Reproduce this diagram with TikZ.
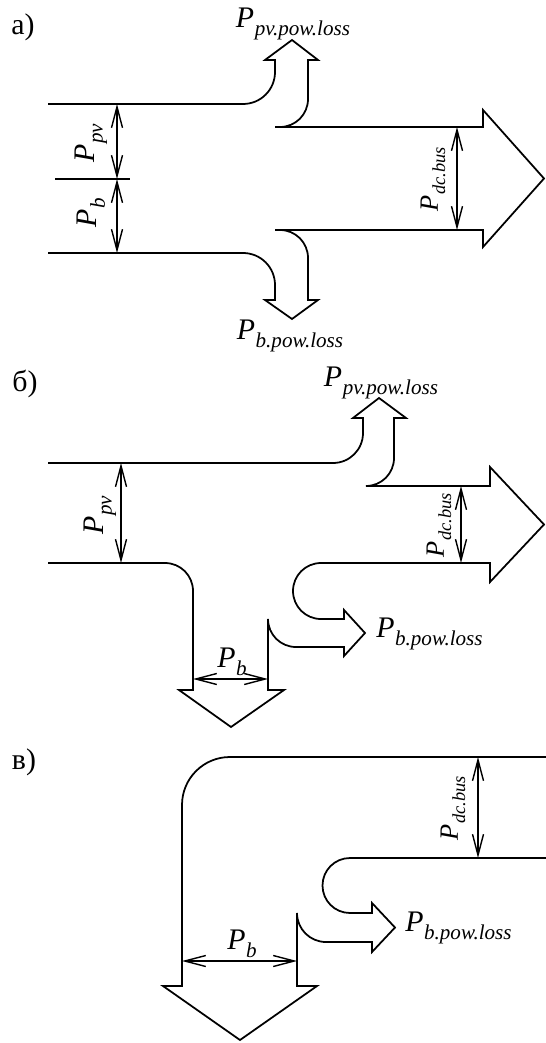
\documentclass[tikz,border=0pt]{standalone}
\usepackage{fontspec}
\setmainfont{Liberation Serif}
\usepackage{tikz}
\usetikzlibrary{arrows.meta}

\newcommand{\psym}[2][12pt]{\textit{P\kern0.3pt\raisebox{-0.28em}{\fontsize{#1}{14pt}\selectfont #2}}}

\begin{document}
\begin{tikzpicture}[x=0.02cm,y=-0.02cm,
    flow/.style={line width=1pt,line join=miter},
    dim/.style={line width=0.8pt,arrows={Straight Barb[length=4.2mm,width=2.2mm]-Straight Barb[length=4.2mm,width=2.2mm]}},
    lbl/.style={font=\fontsize{17pt}{20pt}\selectfont,inner sep=0pt},
    dclbl/.style={font=\fontsize{15pt}{18pt}\selectfont,inner sep=0pt,rotate=90}]
  \useasboundingbox (0,0) rectangle (546,1043);

  % a)
  \node[lbl] (la) at (23,27) {а)};
  \draw[flow] (48,104) -- (243,104) to[out=0,in=-90] (275,72) -- (275,60) -- (265,60) -- (292,40) -- (318,60) -- (308,60)
     -- (308,99) to[out=-90,in=0] (280,127) -- (275,127) -- (483,127) -- (483,110) -- (544,178.5) -- (483,247) -- (483,230)
     -- (275,230) -- (280,230) to[out=0,in=90] (308,258) -- (308,300) -- (318,300) -- (292,319) -- (265,300) -- (275,300)
     -- (275,285) to[out=90,in=0] (243,253) -- (48,253);
  \draw[line width=0.8pt] (55,179) -- (130,179);
  \draw[dim] (117,104) -- (117,179);
  \draw[dim] (117,179) -- (117,253);
  \draw[dim] (457,127) -- (457,230);
  \node[lbl,rotate=90] (a-ppv) at (91,143) {\psym{pv}};
  \node[lbl,rotate=90] (a-pb) at (91,213) {\psym{b}};
  \node[dclbl] (a-pdc) at (433,179) {\psym[10.5pt]{dc.bus}};
  \node[lbl] (a-pvloss) at (293,24) {\psym{pv.pow.loss}};
  \node[lbl] (a-bloss) at (290,336) {\psym{b.pow.loss}};

  % b)
  \node[lbl] (lb) at (25,384) {б)};
  \draw[flow] (48,463) -- (333,463) to[out=0,in=-90] (363,433) -- (363,418) -- (353,418) -- (379,398) -- (406,418) -- (394,418)
     -- (394,458) to[out=-90,in=0] (366,486) -- (490,486) -- (490,467) -- (544,524.5) -- (490,582) -- (490,563)
     -- (321,563) to[out=180,in=90] (293,591) to[out=-90,in=180] (321,619) -- (344,619) -- (344,610) -- (365,633)
     -- (344,656) -- (344,647) -- (296,647) to[out=180,in=-90] (268,619) -- (268,690) -- (284,690) -- (231,727)
     -- (179,690) -- (193,690) -- (193,591) to[out=90,in=0] (165,563) -- (48,563);
  \draw[dim] (121,463) -- (121,563);
  \draw[dim] (461,486) -- (461,563);
  \draw[dim] (193,679) -- (268,679);
  \node[lbl,rotate=90] (b-ppv) at (100,515) {\psym{pv}};
  \node[dclbl] (b-pdc) at (439,525) {\psym[10.5pt]{dc.bus}};
  \node[lbl] (b-pb) at (232,662) {\psym{b}};
  \node[lbl] (b-pvloss) at (381,383) {\psym{pv.pow.loss}};
  \node[lbl,anchor=west] (b-bloss) at (376,634) {\psym{b.pow.loss}};

  % c)
  \node[lbl] (lc) at (24,762) {в)};
  \draw[flow] (546,757) -- (230,757) to[out=180,in=90] (182,805) -- (182,986) -- (163,986) -- (240,1040) -- (317,986)
     -- (297,986) -- (297,913) to[out=-90,in=180] (326,942) -- (372,942) -- (372,952) -- (395,927.5) -- (372,903)
     -- (372,913) -- (350,913) to[out=180,in=-90] (322.5,885.5) to[out=90,in=180] (350,858) -- (546,858);
  \draw[dim] (478,757) -- (478,858);
  \draw[dim] (182,961) -- (297,961);
  \node[dclbl] (c-pdc) at (453,808) {\psym[10.5pt]{dc.bus}};
  \node[lbl] (c-pb) at (242,944) {\psym{b}};
  \node[lbl,anchor=west] (c-bloss) at (405,928) {\psym{b.pow.loss}};
\end{tikzpicture}
\end{document}
